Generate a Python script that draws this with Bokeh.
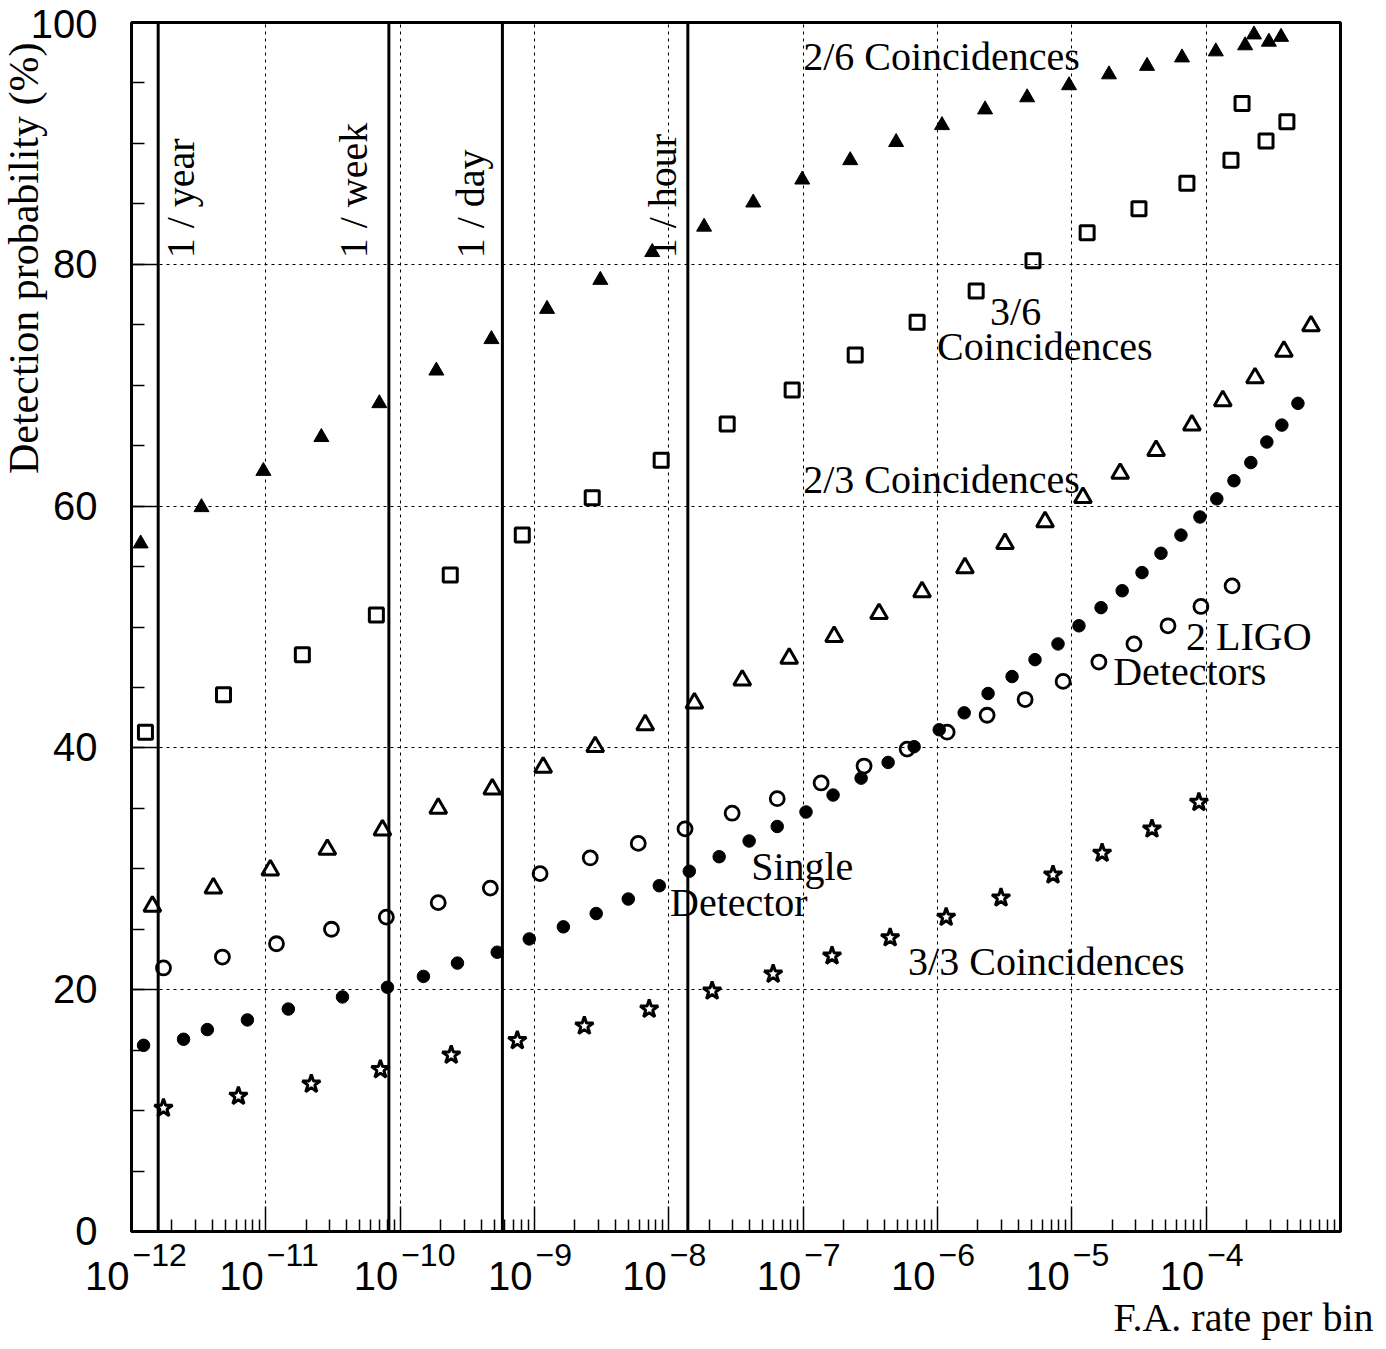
import math
from bokeh.plotting import figure
from bokeh.layouts import row, column
from bokeh.models import Span, Label, FixedTicker, CustomJSTickFormatter, Range1d
from bokeh.core.properties import value
from bokeh.embed import file_html
from bokeh.resources import INLINE

# ---------------- data ----------------
# 2/6 Coincidences (filled triangles)
x26 = [1.17e-12, 3.32e-12, 9.59e-12, 2.59e-11, 7.00e-11, 1.86e-10, 4.78e-10, 1.24e-9, 3.09e-9,
       7.52e-9, 1.83e-8, 4.25e-8, 9.84e-8, 2.24e-7, 4.92e-7, 1.08e-6, 2.26e-6, 4.65e-6,
       9.53e-6, 1.89e-5, 3.63e-5, 6.61e-5, 1.18e-4, 1.95e-4, 2.27e-4, 2.93e-4, 3.61e-4]
y26 = [56.9, 59.9, 62.9, 65.7, 68.5, 71.2, 73.8, 76.3, 78.7, 81.0, 83.1, 85.1, 87.0, 88.6,
       90.1, 91.5, 92.8, 93.8, 94.8, 95.7, 96.4, 97.1, 97.6, 98.1, 99.0, 98.4, 98.8]

# 3/6 Coincidences (open squares)
x36 = [1.27e-12, 4.84e-12, 1.87e-11, 6.65e-11, 2.36e-10, 8.11e-10, 2.69e-9, 8.77e-9, 2.72e-8,
       8.28e-8, 2.44e-7, 7.05e-7, 1.94e-6, 5.14e-6, 1.30e-5, 3.16e-5, 7.19e-5, 1.53e-4,
       1.85e-4, 2.79e-4, 3.99e-4]
y36 = [41.3, 44.4, 47.7, 51.0, 54.3, 57.6, 60.7, 63.8, 66.8, 69.6, 72.5, 75.2, 77.8, 80.3,
       82.6, 84.6, 86.7, 88.6, 93.3, 90.2, 91.8]

# 2/3 Coincidences (open triangles)
x23 = [1.43e-12, 4.07e-12, 1.08e-11, 2.87e-11, 7.38e-11, 1.92e-10, 4.85e-10, 1.16e-9, 2.83e-9,
       6.67e-9, 1.55e-8, 3.52e-8, 7.87e-8, 1.70e-7, 3.67e-7, 7.67e-7, 1.60e-6, 3.18e-6,
       6.32e-6, 1.21e-5, 2.29e-5, 4.24e-5, 7.83e-5, 1.33e-4, 2.31e-4, 3.79e-4, 6.03e-4]
y23 = [26.9, 28.4, 29.9, 31.6, 33.2, 35.0, 36.6, 38.4, 40.1, 41.9, 43.7, 45.6, 47.4, 49.2,
       51.1, 52.9, 54.9, 56.9, 58.7, 60.7, 62.7, 64.6, 66.7, 68.7, 70.6, 72.8, 74.9]

# Single Detector (filled circles)
xsd = [1.23e-12, 2.44e-12, 3.67e-12, 7.29e-12, 1.47e-11, 3.72e-11, 8.04e-11, 1.49e-10, 2.67e-10,
       5.28e-10, 9.14e-10, 1.64e-9, 2.88e-9, 4.99e-9, 8.49e-9, 1.42e-8, 2.37e-8, 3.96e-8,
       6.41e-8, 1.05e-7, 1.67e-7, 2.70e-7, 4.29e-7, 6.70e-7, 1.03e-6, 1.58e-6, 2.38e-6,
       3.59e-6, 5.32e-6, 7.89e-6, 1.13e-5, 1.65e-5, 2.37e-5, 3.33e-5, 4.61e-5, 6.49e-5,
       8.99e-5, 1.20e-4, 1.61e-4, 2.15e-4, 2.83e-4, 3.66e-4, 4.82e-4]
ysd = [15.4, 15.9, 16.7, 17.5, 18.4, 19.4, 20.2, 21.1, 22.2, 23.1, 24.2, 25.2, 26.3, 27.5,
       28.6, 29.8, 31.0, 32.3, 33.5, 34.7, 36.1, 37.5, 38.8, 40.1, 41.5, 42.9, 44.5, 45.9,
       47.3, 48.6, 50.1, 51.6, 53.0, 54.5, 56.1, 57.6, 59.1, 60.6, 62.1, 63.6, 65.3, 66.7, 68.5]

# 2 LIGO Detectors (open circles)
xligo = [1.73e-12, 4.75e-12, 1.20e-11, 3.08e-11, 7.89e-11, 1.92e-10, 4.69e-10, 1.10e-9, 2.60e-9,
         5.92e-9, 1.32e-8, 2.96e-8, 6.41e-8, 1.36e-7, 2.84e-7, 5.94e-7, 1.18e-6, 2.34e-6,
         4.49e-6, 8.61e-6, 1.59e-5, 2.90e-5, 5.20e-5, 9.14e-5, 1.56e-4]
yligo = [21.8, 22.7, 23.8, 25.0, 26.0, 27.2, 28.4, 29.6, 30.9, 32.1, 33.3, 34.6, 35.8, 37.1,
         38.5, 39.9, 41.3, 42.7, 44.0, 45.5, 47.1, 48.6, 50.1, 51.7, 53.4]

# 3/3 Coincidences (open stars)
x33 = [1.73e-12, 6.25e-12, 2.18e-11, 7.13e-11, 2.40e-10, 7.45e-10, 2.35e-9, 7.14e-9, 2.10e-8,
       5.98e-8, 1.64e-7, 4.44e-7, 1.16e-6, 2.97e-6, 7.24e-6, 1.68e-5, 3.95e-5, 8.83e-5]
y33 = [10.2, 11.2, 12.2, 13.4, 14.6, 15.8, 17.0, 18.4, 19.9, 21.3, 22.8, 24.3, 26.0, 27.6,
       29.5, 31.3, 33.3, 35.5]

# reference false-alarm rates (vertical lines)
rate_names = ["1 / year", "1 / week", "1 / day", "1 / hour"]
rate_values = [1.58e-12, 8.24e-11, 5.77e-10, 1.385e-8]

# tick labels
y_ticks = [0, 20, 40, 60, 80, 100]
x_decades = [-12, -11, -10, -9, -8, -7, -6, -5, -4]

# ---------------- geometry ----------------
SERIF = "Liberation Serif"
SANS = "Liberation Sans"
XMIN, XMAX = 1e-12, 1e-3
TOTAL_W, TOTAL_H = 1378, 1346
FR_L, FR_R, FR_T, FR_B = 131, 1340, 22, 1231   # frame edges on the page
PAD = 2
LEFT_W = FR_L - PAD
MAIN_W = TOTAL_W - LEFT_W
MAIN_H = FR_B + PAD
BOT_H = TOTAL_H - MAIN_H
PX_PER_DEC = (FR_R - FR_L) / (math.log10(XMAX) - math.log10(XMIN))
PX_PER_PCT = (FR_B - FR_T) / 100.0
SHIFT = 0.37   # baseline correction (fraction of font size)


def no_align(fig):
    if "frame_align" in fig.properties():
        fig.frame_align = False


def blank(fig):
    fig.axis.visible = False
    fig.xgrid.visible = False
    fig.ygrid.visible = False
    fig.outline_line_color = None
    fig.background_fill_color = "white"
    fig.border_fill_color = "white"
    no_align(fig)


# ---------------- main plot ----------------
p = figure(width=MAIN_W, height=MAIN_H, x_axis_type="log",
           x_range=Range1d(XMIN, XMAX), y_range=Range1d(0, 100),
           output_backend="svg", toolbar_location=None,
           min_border_left=PAD, min_border_right=TOTAL_W - FR_R,
           min_border_top=FR_T, min_border_bottom=PAD)
p.background_fill_color = "white"
p.border_fill_color = "white"
p.outline_line_color = "black"
p.outline_line_width = 3
no_align(p)

minor_x = [m * 10.0 ** k for k in range(-12, -3) for m in range(2, 10)]
p.xaxis.ticker = FixedTicker(ticks=[10.0 ** k for k in range(-12, -2)], minor_ticks=minor_x)
p.yaxis.ticker = FixedTicker(ticks=y_ticks, minor_ticks=list(range(0, 101, 5)))
for ax in (p.xaxis, p.yaxis):
    ax.formatter = CustomJSTickFormatter(code="return ''")
    ax.major_label_text_font_size = "0px"
    ax.major_label_standoff = 0
    ax.axis_line_width = 3
    ax.major_tick_out = 0
    ax.minor_tick_out = 0
    ax.major_tick_line_width = 1.5
    ax.minor_tick_line_width = 1.5
p.xaxis.major_tick_in = 25
p.xaxis.minor_tick_in = 12
p.yaxis.major_tick_in = 26
p.yaxis.minor_tick_in = 13

for g in (p.xgrid, p.ygrid):
    g.grid_line_color = "black"
    g.grid_line_width = 1
    g.grid_line_dash = "3 4"

for v in rate_values:
    p.add_layout(Span(location=v, dimension="height", line_color="black", line_width=3))

label_offsets = [22, -35, -32, -25]
for name, v, off in zip(rate_names, rate_values, label_offsets):
    p.add_layout(Label(x=v, y=80.5, x_offset=off, text=name, angle=math.pi / 2,
                       text_align="left", text_baseline="alphabetic",
                       text_font=SERIF, text_font_size="40px", text_color="black"))

p.scatter(x26, y26, marker="triangle", size=15, fill_color="black", line_color="black", line_width=1)
p.scatter(x36, y36, marker="square", size=14, fill_color=None, line_color="black", line_width=3)
p.scatter(x23, y23, marker="triangle", size=17, fill_color=None, line_color="black", line_width=3)
p.scatter(xsd, ysd, marker="circle", size=12.5, fill_color="black", line_color="black", line_width=1)
p.scatter(xligo, yligo, marker="circle", size=14, fill_color=None, line_color="black", line_width=2.8)
p.scatter(x33, y33, marker="star", size=19, fill_color="white", line_color="black", line_width=3)

notes = [
    ("2/6 Coincidences", 1.0e-7, 96.0),
    ("3/6", 2.46e-6, 74.9),
    ("Coincidences", 9.93e-7, 72.0),
    ("2/3 Coincidences", 1.0e-7, 61.0),
    ("2 LIGO", 7.08e-5, 48.0),
    ("Detectors", 2.03e-5, 45.1),
    ("Single", 4.10e-8, 29.0),
    ("Detector", 1.02e-8, 26.0),
    ("3/3 Coincidences", 6.04e-7, 21.1),
]
for txt, x, y in notes:
    p.add_layout(Label(x=x, y=y + SHIFT * 40 / PX_PER_PCT, text=txt, text_align="left",
                       text_baseline="alphabetic", text_font=SERIF, text_font_size="40px",
                       text_color="black"))

# ---------------- left strip: y tick labels, y title, first x label base ----------------
pl = figure(width=LEFT_W, height=TOTAL_H, x_range=Range1d(0, LEFT_W),
            y_range=Range1d(-(TOTAL_H - FR_B) / PX_PER_PCT, 100 + FR_T / PX_PER_PCT),
            output_backend="svg", toolbar_location=None,
            min_border_left=0, min_border_right=0, min_border_top=0, min_border_bottom=0)
blank(pl)
digit_mid = 0.358 * 40   # distance baseline -> middle of digits
ylab_y = [v + (SHIFT * 40 - digit_mid) / PX_PER_PCT - (2 / PX_PER_PCT if v == 100 else 0)
          for v in y_ticks]
pl.text(x=[97] * len(y_ticks), y=ylab_y,
        text=[str(v) for v in y_ticks], text_align="right", text_baseline="alphabetic",
        text_font=value(SANS), text_font_size="40px", text_color="black")
pl.text(x=[39 - SHIFT * 42], y=[(FR_B - 42) / PX_PER_PCT], text=["Detection probability (%)"],
        angle=math.pi / 2, text_align="right", text_baseline="alphabetic",
        text_font=value(SERIF), text_font_size="42px", text_color="black")

# ---------------- bottom strip: x tick labels and x title ----------------
bx0 = 10 ** (math.log10(XMIN) - PAD / PX_PER_DEC)
bx1 = 10 ** (math.log10(XMIN) + (TOTAL_W - FR_L) / PX_PER_DEC)
pb = figure(width=MAIN_W, height=BOT_H, x_axis_type="log", x_range=Range1d(bx0, bx1),
            y_range=Range1d(0, BOT_H), output_backend="svg", toolbar_location=None,
            min_border_left=0, min_border_right=0, min_border_top=0, min_border_bottom=0)
blank(pb)

base_y_page = 1290
exp_y_page = 1266
# the base "10" of the first decade sits left of the frame, in the left strip
first = [k for k in x_decades if FR_L + (k + 12) * PX_PER_DEC - 2 <= LEFT_W]
rest = [k for k in x_decades if k not in first]
pl.text(x=[FR_L + (k - math.log10(XMIN)) * PX_PER_DEC - 2 for k in first],
        y=[(FR_B - base_y_page + SHIFT * 40) / PX_PER_PCT] * len(first),
        text=["10"] * len(first), text_align="right", text_baseline="alphabetic",
        text_font=value(SANS), text_font_size="40px", text_color="black")
pb.text(x=[10.0 ** k for k in rest], y=[TOTAL_H - base_y_page + SHIFT * 40] * len(rest),
        text=["10"] * len(rest), x_offset=-2, text_align="right", text_baseline="alphabetic",
        text_font=value(SANS), text_font_size="40px", text_color="black")
pb.text(x=[10.0 ** k for k in x_decades], y=[TOTAL_H - exp_y_page + SHIFT * 32] * len(x_decades),
        text=["\u2212" + str(-k) for k in x_decades],
        x_offset=1, text_align="left", text_baseline="alphabetic",
        text_font=value(SANS), text_font_size="32px", text_color="black")
pb.text(x=[XMAX], y=[TOTAL_H - 1332 + SHIFT * 40], text=["F.A. rate per bin"], x_offset=33,
        text_align="right", text_baseline="alphabetic",
        text_font=value(SERIF), text_font_size="40px", text_color="black")

layout = row(pl, column(p, pb))
open("out.html", "w").write(file_html(layout, INLINE))
